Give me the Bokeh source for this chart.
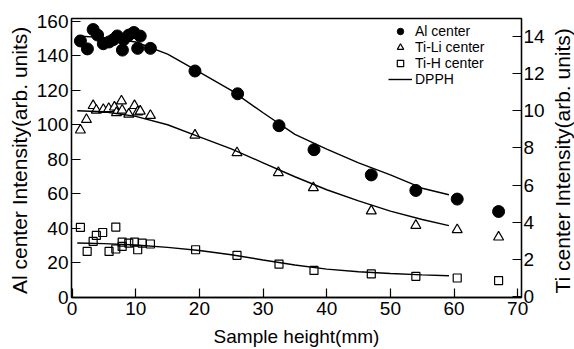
from bokeh.plotting import figure
from bokeh.layouts import row
from bokeh.models import Range1d, LinearAxis, Legend, LegendItem, FixedTicker
from bokeh.core.properties import value
from bokeh.embed import file_html
from bokeh.resources import INLINE

# ---- data ----
al_x = [1.3, 2.4, 3.3, 4.0, 4.9, 5.8, 6.5, 7.1, 7.9, 8.1, 8.9, 9.7, 10.3, 10.7, 12.3,
        19.3, 26.0, 32.5, 38.0, 47.0, 54.0, 60.5, 67.0]
al_y = [148.6, 144.0, 155.2, 152.0, 147.0, 148.0, 149.4, 151.5, 143.3, 149.4, 152.0, 153.5,
        144.3, 151.4, 144.3, 131.2, 118.0, 99.5, 85.6, 71.0, 62.0, 57.0, 49.8]

tili_x = [1.3, 2.25, 3.3, 3.8, 4.9, 5.75, 6.65, 6.97, 7.75, 7.86, 8.9, 9.8, 10.3, 10.7, 12.3,
          19.3, 25.9, 32.4, 37.9, 47.0, 54.0, 60.5, 67.0]
tili_y = [8.96, 9.53, 10.28, 10.03, 10.07, 10.12, 10.2, 9.9, 10.53, 10.03, 9.82, 10.28, 9.94,
          9.98, 9.75, 8.69, 7.74, 6.67, 5.86, 4.61, 3.83, 3.6, 3.2]

tih_x = [1.3, 2.36, 3.3, 3.8, 4.8, 5.8, 6.86, 6.86, 7.86, 7.86, 8.9, 9.8, 10.3, 11.0, 12.3,
         19.4, 25.9, 32.5, 38.0, 47.0, 54.0, 60.5, 67.0]
tih_y = [3.72, 2.43, 2.97, 3.29, 3.45, 2.43, 3.74, 2.56, 2.93, 2.7, 2.88, 2.93, 2.52, 2.88,
         2.83, 2.52, 2.22, 1.75, 1.41, 1.22, 1.09, 1.0, 0.86]

dpph_x = [0.8, 5, 10, 15, 20, 25, 30, 35, 40, 45, 50, 55, 59.2]
dpph_al = [151.5, 150.5, 148.0, 141.0, 130.5, 120.0, 107.0, 94.5, 86.0, 78.0, 71.0, 63.3, 59.5]
dpph_tili = [10.0, 9.95, 9.7, 9.25, 8.6, 7.95, 7.2, 6.45, 5.75, 5.15, 4.6, 4.15, 3.82]
dpph_tih = [2.88, 2.85, 2.78, 2.65, 2.48, 2.25, 1.97, 1.7, 1.48, 1.34, 1.24, 1.17, 1.12]

x_ticks = [0, 10, 20, 30, 40, 50, 60, 70]
left_ticks = [0, 20, 40, 60, 80, 100, 120, 140, 160]
right_ticks = [0, 2, 4, 6, 8, 10, 12, 14]

x_title = "Sample height(mm)"
left_title = "Al center Intensity(arb. units)"
right_title = "Ti center Intensity(arb. units)"

FONT = "Liberation Sans"
H = 349
LEFT_W = 31
RIGHT_W = 26
MAIN_W = 574 - LEFT_W - RIGHT_W

p = figure(width=MAIN_W, height=H, output_backend="svg", toolbar_location=None,
           x_range=Range1d(-0.1, 70.6), y_range=Range1d(0, 161.6),
           min_border_left=71 - LEFT_W, min_border_right=MAIN_W + LEFT_W - 521,
           min_border_top=18, min_border_bottom=51)
p.extra_y_ranges = {"ti": Range1d(-0.05, 14.97)}
p.xgrid.visible = False
p.ygrid.visible = False
p.outline_line_color = "black"
p.outline_line_width = 1.3
p.background_fill_color = "white"
p.border_fill_color = "white"

right_axis = LinearAxis(y_range_name="ti")
p.add_layout(right_axis, "right")

p.xaxis.axis_label = x_title
p.xaxis.ticker = FixedTicker(ticks=x_ticks)
p.yaxis[0].ticker = FixedTicker(ticks=left_ticks)
right_axis.ticker = FixedTicker(ticks=right_ticks)

for ax in [p.xaxis[0], p.yaxis[0], right_axis]:
    ax.axis_line_color = "black"
    ax.axis_line_width = 1.3
    ax.major_tick_line_color = "black"
    ax.major_tick_line_width = 1.2
    ax.major_tick_in = 9
    ax.major_tick_out = 0
    ax.minor_tick_line_color = None
    ax.major_label_text_font = FONT
    ax.major_label_text_font_size = "19px"
    ax.major_label_text_color = "black"
    ax.axis_label_text_font = FONT
    ax.axis_label_text_font_size = "19px"
    ax.axis_label_text_font_style = "normal"
    ax.axis_label_text_color = "black"

p.xaxis.major_label_standoff = 4
p.xaxis.axis_label_standoff = 8
p.yaxis[0].major_label_standoff = 3
right_axis.major_label_standoff = 2

r_al = p.scatter(al_x, al_y, marker="circle", size=12, fill_color="black", line_color="black")
r_tili = p.scatter(tili_x, tili_y, marker="triangle", size=10, fill_color="white",
                   line_color="black", line_width=1.2, y_range_name="ti")
r_tih = p.scatter(tih_x, tih_y, marker="square", size=8, fill_color=None,
                  line_color="black", line_width=1.2, y_range_name="ti")
l1 = p.line(dpph_x, dpph_al, line_color="black", line_width=1.4)
p.line(dpph_x, dpph_tili, line_color="black", line_width=1.4, y_range_name="ti")
p.line(dpph_x, dpph_tih, line_color="black", line_width=1.4, y_range_name="ti")

legend = Legend(items=[LegendItem(label="Al center", renderers=[r_al]),
                       LegendItem(label="Ti-Li center", renderers=[r_tili]),
                       LegendItem(label="Ti-H center", renderers=[r_tih]),
                       LegendItem(label="DPPH", renderers=[l1])],
                location=(317, 210))
legend.padding = 0
legend.margin = 0
legend.spacing = 0
legend.glyph_width = 24
legend.glyph_height = 16
legend.label_height = 16
legend.label_standoff = 3
legend.label_text_font = FONT
legend.label_text_font_size = "14px"
legend.label_text_color = "black"
legend.border_line_color = None
legend.background_fill_alpha = 0
p.add_layout(legend, "center")


def title_strip(width, text, cx, cy, size):
    """Narrow strip holding a vertical axis title that reads bottom-to-top."""
    s = figure(width=width, height=H, output_backend="svg", toolbar_location=None,
               x_range=Range1d(0, width), y_range=Range1d(0, H),
               min_border=0, min_border_left=0, min_border_right=0,
               min_border_top=0, min_border_bottom=0)
    s.axis.visible = False
    s.grid.visible = False
    s.outline_line_color = None
    s.background_fill_color = "white"
    s.border_fill_color = "white"
    s.text(x=[cx], y=[H - cy], text=[text], angle=90, angle_units="deg",
           text_align="center", text_baseline="middle", text_font=value(FONT),
           text_font_size=size, text_color="black")
    return s


left_strip = title_strip(LEFT_W, left_title, 18.5, 177.5, "21px")
right_strip = title_strip(RIGHT_W, right_title, 562 - (574 - RIGHT_W), 178, "21px")

layout = row(left_strip, p, right_strip, spacing=0)
open("out.html", "w").write(file_html(layout, INLINE))
